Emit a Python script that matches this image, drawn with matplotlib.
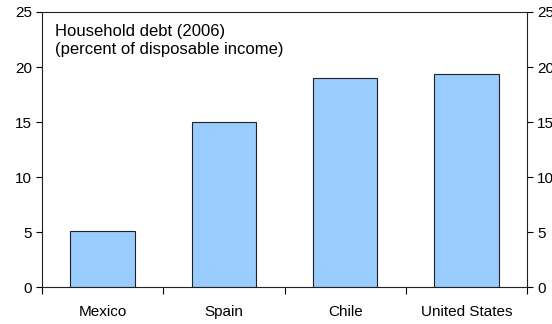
import matplotlib.pyplot as plt
import numpy as np

plt.rcParams['font.family'] = ['Liberation Sans', 'DejaVu Sans']

countries = ['Mexico', 'Spain', 'Chile', 'United States']
debt = [5.1, 15.0, 19.0, 19.4]
yticks = [0, 5, 10, 15, 20, 25]

fig = plt.figure(figsize=(5.52, 3.24), dpi=100)
ax = fig.add_axes([0.076, 0.114, 0.879, 0.849])
x = np.arange(len(countries))
ax.bar(x, debt, width=0.53, color='#99CCFF', edgecolor='#222222', linewidth=0.8, zorder=2)

ax.set_xlim(-0.5, len(countries) - 0.5)
ax.set_ylim(0, 25)
ax.set_yticks(yticks)
ax.tick_params(axis='y', direction='out', length=4, width=0.8, labelsize=11, pad=3,
               right=True, labelright=True)
ax.set_xticks(np.arange(-0.5, len(countries), 1.0))
ax.set_xticklabels([])
ax.set_xticks(x, minor=True)
ax.set_xticklabels(countries, minor=True)
ax.tick_params(axis='x', which='major', direction='out', length=5, width=0.8)
ax.tick_params(axis='x', which='minor', length=0, labelsize=11, pad=13)
for s in ax.spines.values():
    s.set_linewidth(0.8)
    s.set_color('#222222')

ax.text(0.026, 0.955, 'Household debt (2006)\n(percent of disposable income)',
        transform=ax.transAxes, ha='left', va='top', fontsize=12, linespacing=1.25)

plt.savefig('out.png', dpi=100)
